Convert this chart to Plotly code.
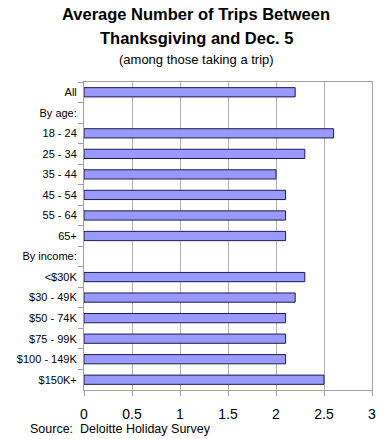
import plotly.graph_objects as go

categories = ["All", "By age:", "18 - 24", "25 - 34", "35 - 44", "45 - 54", "55 - 64", "65+",
              "By income:", "<$30K", "$30 - 49K", "$50 - 74K", "$75 - 99K", "$100 - 149K", "$150K+"]
values = [2.2, None, 2.6, 2.3, 2.0, 2.1, 2.1, 2.1, None, 2.3, 2.2, 2.1, 2.1, 2.1, 2.5]
x_ticks = [0, 0.5, 1, 1.5, 2, 2.5, 3]
x_tick_labels = ["0", "0.5", "1", "1.5", "2", "2.5", "3"]

sans = "Liberation Sans, Arial, sans-serif"

W, H = 392, 439
L, R, T, B = 84, 20, 82, 49

fig = go.Figure(go.Bar(
    x=values, y=categories, orientation="h", width=0.45,
    marker=dict(color="#9999ff", line=dict(color="#1c1c50", width=1)),
))

fig.update_layout(
    width=W, height=H,
    margin=dict(l=L, r=R, t=T, b=B),
    paper_bgcolor="white", plot_bgcolor="white",
    showlegend=False,
    xaxis=dict(range=[0, 3], tickvals=x_ticks, ticktext=x_tick_labels,
               showgrid=True, gridcolor="#b3b3b3", gridwidth=1,
               showline=True, linecolor="#a0a0a0", mirror=True,
               ticks="outside", ticklen=5, tickcolor="#a0a0a0", ticklabelstandoff=6,
               tickfont=dict(family=sans, size=14, color="black"), zeroline=False, fixedrange=True),
    yaxis=dict(categoryorder="array", categoryarray=categories, autorange="reversed",
               showline=True, linecolor="#a0a0a0", mirror=True,
               ticks="outside", ticklen=5, tickcolor="#a0a0a0", tickson="boundaries",
               ticklabelstandoff=4,
               tickfont=dict(family=sans, size=11, color="black"), showgrid=False, fixedrange=True),
)

H_plot = H - T - B
W_plot = W - L - R

def ypix(p):
    return 1 + (T - p) / H_plot

def xpix(p):
    return (p - L) / W_plot

fig.add_annotation(text="<b>Average Number of Trips Between</b>", x=xpix(196), y=ypix(14), xref="paper", yref="paper",
                   showarrow=False, font=dict(family=sans, size=16.5, color="black"), xanchor="center", yanchor="middle")
fig.add_annotation(text="<b>Thanksgiving and Dec. 5</b>", x=xpix(196), y=ypix(38), xref="paper", yref="paper",
                   showarrow=False, font=dict(family=sans, size=16.5, color="black"), xanchor="center", yanchor="middle")
fig.add_annotation(text="(among those taking a trip)", x=xpix(196), y=ypix(59), xref="paper", yref="paper",
                   showarrow=False, font=dict(family=sans, size=13, color="black"), xanchor="center", yanchor="middle")
fig.add_annotation(text="Source:  Deloitte Holiday Survey", x=xpix(28), y=ypix(429), xref="paper", yref="paper",
                   showarrow=False, font=dict(family=sans, size=12.5, color="black"), xanchor="left", yanchor="middle")

fig.write_html("out.html", config={"displayModeBar": False, "staticPlot": True},
               post_script="document.body.style.margin='0';document.body.style.overflow='hidden';")
